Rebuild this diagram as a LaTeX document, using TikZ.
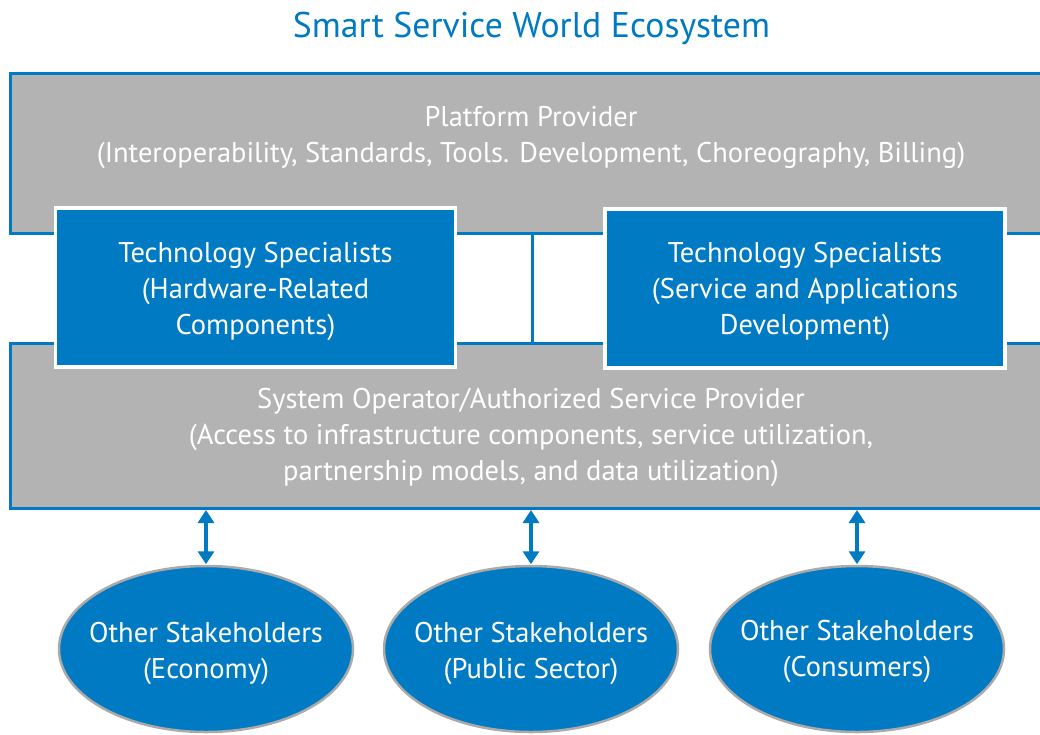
\documentclass[tikz,border=0pt]{standalone}
\usepackage{fontspec}
\setmainfont{PT Sans}
\usetikzlibrary{arrows.meta,shapes.geometric}
\definecolor{sblue}{RGB}{0,122,194}
\definecolor{sgray}{RGB}{179,179,179}
\definecolor{egray}{RGB}{170,170,170}
\tikzset{
  txt/.style={font=\fontsize{28.5}{36}\selectfont, text=white, align=center, inner sep=0pt},
  graybox/.style={draw=sblue, fill=sgray, line width=3pt, rectangle, inner sep=0pt},
  bluebox/.style={draw=white, fill=sblue, line width=3.5pt, rectangle, inner sep=0pt},
  stake/.style={ellipse, draw=egray, fill=sblue, line width=2.5pt, minimum width=294pt, minimum height=166pt, inner sep=0pt},
  link/.style={draw=sblue, line width=3pt},
  biarrow/.style={draw=sblue, line width=4pt, {Triangle[width=16pt,length=13pt]}-{Triangle[width=16pt,length=13pt]}, shorten <=0.5pt, shorten >=0.5pt}
}
\begin{document}
\begin{tikzpicture}[x=1pt,y=-1pt]
\clip (0,0) rectangle (1040,734);
\fill[white] (0,0) rectangle (1040,734);
% title
\node[font=\fontsize{35.7}{40}\selectfont, text=sblue, inner sep=0pt] (title) at (531.5,28) {Smart Service World Ecosystem};
% gray boxes
\node[graybox, minimum width=1042pt, minimum height=160pt] (plat) at (531,153) {};
\node[graybox, minimum width=1042pt, minimum height=165pt] (sys) at (531,425.5) {};
\draw[link] (plat.south -| 532,0) -- (sys.north -| 532,0);
\node[txt] (plattxt) at (531,137.5) {Platform Provider\\(Interoperability, Standards, Tools. Development, Choreography, Billing)};
\node[txt] (systxt) at (531,437.5) {System Operator/Authorized Service Provider\\(Access to infrastructure components, service utilization,\\partnership models, and data utilization)};
% blue boxes
\node[bluebox, minimum width=400pt, minimum height=159pt] (hw) at (255.5,287.5) {};
\node[txt] (hwtxt) at (255.5,291) {Technology Specialists\\(Hardware-Related\\Components)};
\node[bluebox, minimum width=400pt, minimum height=159pt] (sw) at (805,288.5) {};
\node[txt] (swtxt) at (805,291) {Technology Specialists\\(Service and Applications\\Development)};
% stakeholders
\node[stake] (eco) at (206,649) {};
\node[txt] (ecotxt) at (206,653) {Other Stakeholders\\(Economy)};
\node[stake] (pub) at (531,649) {};
\node[txt] (pubtxt) at (531,653) {Other Stakeholders\\(Public Sector)};
\node[stake] (con) at (857,649) {};
\node[txt] (contxt) at (857,651) {Other Stakeholders\\(Consumers)};
% arrows
\draw[biarrow] (sys.south -| eco.north) -- (eco.north);
\draw[biarrow] (sys.south -| pub.north) -- (pub.north);
\draw[biarrow] (sys.south -| con.north) -- (con.north);
\end{tikzpicture}
\end{document}
